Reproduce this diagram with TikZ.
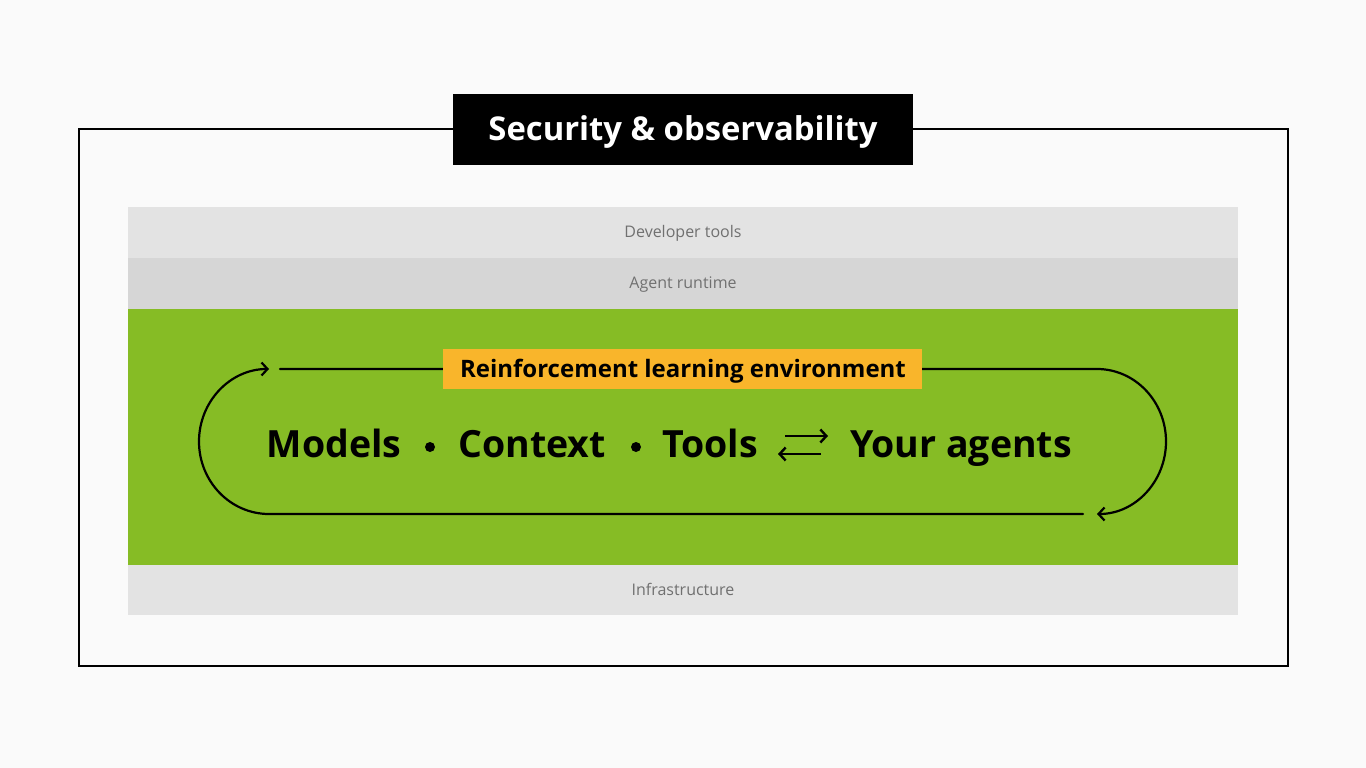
\documentclass[tikz,border=0pt]{standalone}
\usepackage{fontspec}
\setmainfont{Open Sans}
\usetikzlibrary{arrows.meta,calc}
\definecolor{bg}{HTML}{FAFAFA}
\definecolor{bandA}{HTML}{E3E3E3}
\definecolor{bandB}{HTML}{D6D6D6}
\definecolor{green}{HTML}{86BC25}
\definecolor{orange}{HTML}{F9B52B}
\definecolor{graytext}{HTML}{707070}
\tikzset{
  bandlabel/.style={anchor=base, text=graytext, font=\fontsize{16}{18}\selectfont, inner sep=0pt},
  bigword/.style={anchor=base, font=\fontsize{37.5}{44}\selectfont\bfseries, inner sep=0pt},
  loopline/.style={line width=2.2pt, line cap=round, -{Straight Barb[length=6pt,width=13pt,line width=2.2pt]}},
  swap/.style={line width=2.4pt, -{Straight Barb[length=6pt,width=13pt,line width=2.4pt]}},
}
\begin{document}
\begin{tikzpicture}[x=1pt,y=-1pt]
\fill[bg] (0,0) rectangle (1366,768);
\useasboundingbox (0,0) rectangle (1366,768);
% outer frame
\draw[line width=2pt] (79,129) rectangle (1288,666);
% title
\node[fill=black, minimum width=460pt, minimum height=71pt, inner sep=0pt, anchor=north west] (title) at (453,94) {};
\node[anchor=base, text=white, font=\fontsize{32.8}{36}\selectfont\bfseries, inner sep=0pt] (titletext) at (683,140) {Security \& observability};
% bands
\fill[bandA] (128,207) rectangle (1238,258);
\fill[bandB] (128,258) rectangle (1238,309);
\fill[green] (128,309) rectangle (1238,565);
\fill[bandA] (128,565) rectangle (1238,615);
\node[bandlabel] (dev) at (683,237) {Developer tools};
\node[bandlabel] (runtime) at (683,288) {Agent runtime};
\node[bandlabel] (infra) at (683,595) {Infrastructure};
% loop
\coordinate (tl) at (280,369);
\coordinate (br) at (1097,514);
\coordinate (bl) at (1083,514);
\draw[loopline] (tl) -- (1097,369) arc[start angle=-90, end angle=90, x radius=69, y radius=72.5];
\draw[loopline] (bl) -- (269,514) arc[start angle=90, end angle=270, x radius=70, y radius=72.5];
% orange label
\node[fill=orange, minimum width=479pt, minimum height=40pt, inner sep=0pt, anchor=north west] (rlbox) at (443,349) {};
\node[anchor=base, font=\fontsize{24}{26}\selectfont\bfseries, inner sep=0pt] (rl) at (683,377) {Reinforcement learning environment};
% words
\node[bigword] (models) at (334,457) {Models};
\node[bigword] (context) at (532,457) {Context};
\node[bigword] (tools) at (710,457) {Tools};
\node[bigword] (agents) at (961,457) {Your agents};
\fill (430,447) circle[radius=5] coordinate (dot1);
\fill (636,447) circle[radius=5] coordinate (dot2);
\coordinate (s1) at (785,436);
\coordinate (e1) at (828,436);
\coordinate (s2) at (821,454);
\coordinate (e2) at (778,454);
\draw[swap] (s1) -- (e1);
\draw[swap] (s2) -- (e2);
\end{tikzpicture}
\end{document}
